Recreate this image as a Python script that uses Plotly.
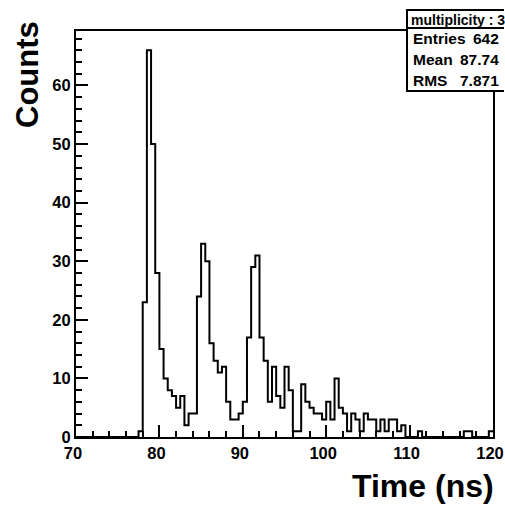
import numpy as np
import plotly.graph_objects as go

# Histogram binning (ns) and per-bin counts, 0.5 ns bins from 70 to 120
bin_low = 70.0
bin_width = 0.5
counts = [
    # 70.0 - 77.5
    0, 0, 0, 0, 0, 0, 0, 0, 0, 0, 0, 0, 0, 0, 0,
    # 77.5 - 80.0
    1, 23, 66, 50, 28,
    # 80.0 - 85.0
    15, 10, 8, 7, 5, 7, 2, 4, 4, 24,
    # 85.0 - 90.0
    33, 30, 16, 13, 11, 12, 6, 3, 3, 4,
    # 90.0 - 95.0
    6, 17, 29, 31, 17, 13, 6, 12, 7, 5,
    # 95.0 - 100.0
    12, 8, 1, 1, 9, 6, 5, 4, 4, 3,
    # 100.0 - 105.0
    6, 3, 10, 5, 4, 1, 4, 3, 1, 4,
    # 105.0 - 110.0
    3, 3, 1, 3, 1, 3, 3, 1, 2, 0,
    # 110.0 - 115.0
    0, 0, 1, 0, 0, 0, 0, 0, 0, 0,
    # 115.0 - 120.0
    0, 0, 0, 1, 1, 0, 0, 0, 0, 1,
]

x_range = [70, 120]
y_range = [0, 69.3]
x_major, x_minor = 10, 2
y_major, y_minor = 10, 2

stats_title = "multiplicity : 3"
stats_names = ["Entries", "Mean", "RMS"]
stats_values = ["642", "87.74", "7.871"]

x_title = "Time (ns)"
y_title = "Counts"

# step outline built from bin edges
edges = bin_low + bin_width * np.arange(len(counts) + 1)
step_y = list(counts) + [counts[-1]]

W, H = 505, 505
ML, MR, MT, MB = 76, 12, 31, 68
PW, PH = W - ML - MR, H - MT - MB


def xp(px):
    return (px - ML) / PW


def yp(py):
    return (H - MB - py) / PH


FONT = "Liberation Sans"

fig = go.Figure()
fig.add_trace(go.Scatter(
    x=edges, y=step_y, mode="lines",
    line=dict(color="black", width=2, shape="hv"),
    hoverinfo="skip", showlegend=False,
))

axis_common = dict(
    showgrid=False, zeroline=False, automargin=False,
    showline=True, linecolor="black", linewidth=2, mirror=True,
    tickmode="linear",
    ticks="inside", ticklen=12, tickwidth=2, tickcolor="black",
    ticklabeloverflow="allow",
    tickfont=dict(family=FONT, size=16.5, color="black", weight="bold"),
)

fig.update_xaxes(
    range=x_range, tick0=x_range[0], dtick=x_major, ticklabelshift=-3,
    minor=dict(ticks="inside", ticklen=6, tickwidth=2, tickcolor="black",
               tick0=x_range[0], dtick=x_minor, showgrid=False),
    **axis_common,
)
fig.update_yaxes(
    range=y_range, tick0=0, dtick=y_major,
    minor=dict(ticks="inside", ticklen=6, tickwidth=2, tickcolor="black",
               tick0=0, dtick=y_minor, showgrid=False),
    **axis_common,
)

# statistics box in the upper right corner, running off the right edge
box_left, box_right, box_top, box_bottom, title_line = 407, 504, 10, 91, 28
fig.add_shape(type="rect", xref="paper", yref="paper",
              x0=xp(box_left), x1=xp(box_right), y0=yp(box_bottom), y1=yp(box_top),
              line=dict(width=0), fillcolor="white", layer="above")
for y0, y1 in [(box_top, box_top), (title_line, title_line), (box_bottom, box_bottom)]:
    fig.add_shape(type="line", xref="paper", yref="paper",
                  x0=xp(box_left - 1), x1=xp(box_right), y0=yp(y0), y1=yp(y1),
                  line=dict(color="black", width=2), layer="above")
fig.add_shape(type="line", xref="paper", yref="paper",
              x0=xp(box_left), x1=xp(box_left), y0=yp(box_bottom), y1=yp(box_top),
              line=dict(color="black", width=2), layer="above")

annotations = [
    dict(text=stats_title, x=xp(409), y=yp(20), xanchor="left", yanchor="middle",
         font=dict(family=FONT, size=14, color="black", weight="bold")),
]
row_centers = [39, 60, 81]
for name, val, cy in zip(stats_names, stats_values, row_centers):
    annotations.append(dict(text=name, x=xp(411), y=yp(cy), xanchor="left", yanchor="middle",
                            font=dict(family=FONT, size=15.5, color="black", weight="bold")))
    annotations.append(dict(text=val, x=xp(501), y=yp(cy), xanchor="right", yanchor="middle",
                            font=dict(family=FONT, size=15.5, color="black", weight="bold")))

annotations.append(dict(text=y_title, x=xp(27), y=yp(75), xanchor="center", yanchor="middle",
                        textangle=-90,
                        font=dict(family=FONT, size=31, color="black", weight="bold")))
annotations.append(dict(text=x_title, x=xp(496), y=yp(486), xanchor="right", yanchor="middle",
                        font=dict(family=FONT, size=32, color="black", weight="bold")))

for a in annotations:
    a.update(xref="paper", yref="paper", showarrow=False)

fig.update_layout(
    width=W, height=H,
    margin=dict(l=ML, r=MR, t=MT, b=MB, pad=0, autoexpand=False),
    paper_bgcolor="white", plot_bgcolor="white",
    annotations=annotations,
    showlegend=False,
)

fig.write_html("out.html")
